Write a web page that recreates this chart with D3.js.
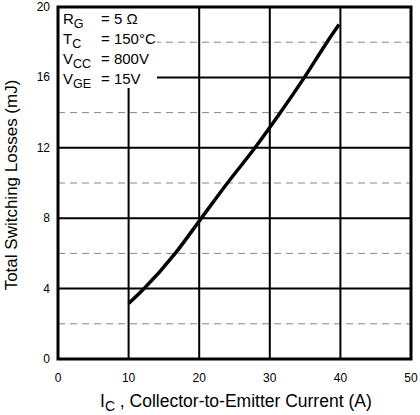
<!DOCTYPE html>
<html><head><meta charset="utf-8">
<script src="https://cdn.jsdelivr.net/npm/d3@7"></script>
<style>body{margin:0;background:#fff}svg{font-family:"Liberation Sans",Arial,sans-serif}</style>
</head><body><svg id="c" width="420" height="415"></svg>
<script>
const currentA = [10, 12.2, 16.6, 20.3, 24, 27.9, 31.5, 34.9, 38.1, 39.8];
const lossesMJ = [3.15, 4, 6, 8, 10, 12, 14, 16, 18, 19];
const xTicks = [0, 10, 20, 30, 40, 50];
const yTicks = [0, 4, 8, 12, 16, 20];
const yMinor = [2, 6, 10, 14, 18];
const legendRows = [["R","G","= 5 Ω"],["T","C","= 150°C"],["V","CC","= 800V"],["V","GE","= 15V"]];

const svg = d3.select("#c");
const x = d3.scaleLinear().domain([0, 50]).range([58, 411]);
const y = d3.scaleLinear().domain([0, 20]).range([359, 7]);

// minor dashed
svg.append("g").selectAll("line").data(yMinor).join("line")
  .attr("x1", x(0)).attr("x2", x(50)).attr("y1", d=>y(d)).attr("y2", d=>y(d))
  .attr("stroke", "#888").attr("stroke-width", 1).attr("stroke-dasharray", "7,5");
// major grid
svg.append("g").selectAll("line").data(yTicks.slice(1,-1)).join("line")
  .attr("x1", x(0)).attr("x2", x(50)).attr("y1", d=>y(d)).attr("y2", d=>y(d))
  .attr("stroke", "#000").attr("stroke-width", 2);
svg.append("g").selectAll("line").data(xTicks.slice(1,-1)).join("line")
  .attr("y1", y(0)).attr("y2", y(20)).attr("x1", d=>x(d)).attr("x2", d=>x(d))
  .attr("stroke", "#000").attr("stroke-width", 2);

// legend box
svg.append("rect").attr("x", x(0)).attr("y", y(20)).attr("width", 99).attr("height", 81).attr("fill", "#fff");
const lg = svg.append("g");
legendRows.forEach((r, i) => {
  const t = lg.append("text").attr("x", 63).attr("y", 24 + i*20).attr("font-size", 15).attr("fill", "#000");
  t.append("tspan").text(r[0]);
  t.append("tspan").attr("font-size", 12.5).attr("dy", 4).text(r[1]);
  lg.append("text").attr("x", 101).attr("y", 24 + i*20).attr("font-size", 15).text(r[2]);
});

// frame
svg.append("rect").attr("x", x(0)).attr("y", y(20)).attr("width", x(50)-x(0)).attr("height", y(0)-y(20))
  .attr("fill", "none").attr("stroke", "#000").attr("stroke-width", 3);

// curve
svg.append("path").datum(currentA.map((c,i)=>[c, lossesMJ[i]]))
  .attr("d", d3.line().x(d=>x(d[0])).y(d=>y(d[1])).curve(d3.curveMonotoneX))
  .attr("fill", "none").attr("stroke", "#000").attr("stroke-width", 3.5);

// tick labels
svg.append("g").selectAll("text").data(xTicks).join("text")
  .attr("x", d=>x(d)).attr("y", 382).attr("text-anchor", "middle").attr("font-size", 12).text(d=>d);
svg.append("g").selectAll("text").data(yTicks).join("text")
  .attr("x", 50).attr("y", d=>y(d)+4).attr("text-anchor", "end").attr("font-size", 12).text(d=>d);

// axis titles
const xt = svg.append("text").attr("x", 100).attr("y", 407).attr("font-size", 17.5);
xt.append("tspan").text("I");
xt.append("tspan").attr("font-size", 14).attr("dy", 4).text("C");
xt.append("tspan").attr("dy", -4).text(" , Collector-to-Emitter Current (A)");
svg.append("text").attr("transform", "translate(17,185) rotate(-90)").attr("text-anchor", "middle")
  .attr("font-size", 17).text("Total Switching Losses (mJ)");
</script></body></html>
